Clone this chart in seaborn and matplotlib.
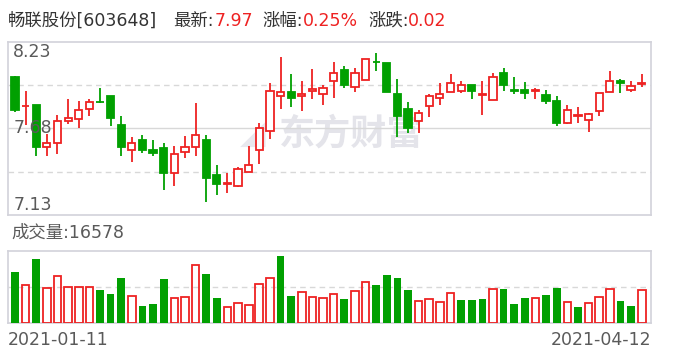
import matplotlib
matplotlib.use("Agg")
import matplotlib.pyplot as plt
import numpy as np
import pandas as pd
import seaborn as sns

# ---------------- data ----------------
stock_title = "畅联股份[603648]"
latest_label, latest_value = "最新:", "7.97"
pct_label, pct_value = "涨幅:", "0.25%"
chg_label, chg_value = "涨跌:", "0.02"
vol_label = "成交量:16578"
date_labels = ["2021-01-11", "2021-04-12"]
price_ticks = [7.13, 7.68, 8.23]

opens = [8.01, 7.82, 7.83, 7.56, 7.59, 7.73, 7.74, 7.805, 7.85, 7.885,
         7.705, 7.545, 7.61, 7.545, 7.555, 7.40, 7.53, 7.56, 7.605, 7.385,
         7.33, 7.315, 7.405, 7.545, 7.665, 7.885, 7.915, 7.885, 7.92, 7.90,
         7.98, 8.055, 7.945, 7.99, 8.105, 8.095, 7.90, 7.805, 7.73, 7.82,
         7.875, 7.91, 7.92, 7.955, 7.89, 7.86, 8.035, 7.925, 7.925, 7.92,
         7.895, 7.855, 7.715, 7.76, 7.735, 7.79, 7.91, 7.985, 7.925, 7.96]
highs = [8.015, 7.92, 7.83, 7.645, 7.765, 7.865, 7.855, 7.87, 7.94, 7.885,
         7.76, 7.625, 7.64, 7.605, 7.585, 7.57, 7.635, 7.845, 7.64, 7.445,
         7.40, 7.435, 7.57, 7.715, 7.97, 8.135, 8.025, 7.985, 8.06, 7.955,
         8.105, 8.08, 8.065, 8.125, 8.16, 8.095, 7.995, 7.85, 7.795, 7.90,
         7.97, 8.025, 7.985, 7.955, 7.985, 8.035, 8.065, 8.005, 7.975, 7.935,
         7.925, 7.885, 7.83, 7.815, 7.78, 7.905, 8.045, 7.995, 7.985, 8.025]
lows = [7.785, 7.705, 7.505, 7.505, 7.52, 7.71, 7.685, 7.76, 7.845, 7.695,
        7.505, 7.47, 7.525, 7.505, 7.29, 7.315, 7.49, 7.505, 7.215, 7.26,
        7.27, 7.31, 7.405, 7.455, 7.615, 7.805, 7.815, 7.79, 7.87, 7.83,
        7.875, 7.94, 7.91, 7.99, 8.045, 7.91, 7.625, 7.65, 7.65, 7.75,
        7.83, 7.91, 7.905, 7.87, 7.765, 7.86, 7.92, 7.90, 7.87, 7.865,
        7.835, 7.695, 7.71, 7.715, 7.66, 7.76, 7.91, 7.905, 7.91, 7.945]
closes = [7.80, 7.825, 7.56, 7.59, 7.73, 7.745, 7.795, 7.85, 7.846, 7.745,
          7.56, 7.59, 7.545, 7.525, 7.40, 7.52, 7.565, 7.64, 7.365, 7.33,
          7.335, 7.425, 7.45, 7.68, 7.92, 7.915, 7.875, 7.90, 7.93, 7.935,
          8.035, 7.955, 8.035, 8.125, 8.10, 7.915, 7.76, 7.68, 7.78, 7.885,
          7.90, 7.97, 7.955, 7.92, 7.90, 8.01, 7.955, 7.92, 7.905, 7.925,
          7.855, 7.715, 7.795, 7.765, 7.775, 7.905, 7.985, 7.97, 7.95, 7.97]
volumes = [25790, 19090, 32320, 17580, 23610, 18090, 18090, 18090, 16750, 14740,
           22770, 13560, 8710, 9710, 22270, 12560, 13060, 29140, 24780, 12730,
           8040, 10050, 9040, 19590, 22610, 33830, 13730, 15570, 13060, 12560,
           14570, 12220, 16080, 20600, 19260, 24280, 22940, 16750, 11050, 12060,
           10550, 15070, 11720, 11720, 12220, 17080, 17250, 9710, 12730, 12560,
           14230, 17750, 10550, 8210, 10050, 13060, 17080, 11220, 8710, 16578]

# ---------------- style ----------------
sns.set_theme(style="white")
plt.rcParams["font.family"] = ["DejaVu Sans", "Noto Sans CJK SC"]

RED = "#ee2222"
GREEN = "#01a001"
BORDER = "#d2d2da"
GRID = "#d8d8d8"
LABEL = "#5a5a5a"
TXT = "#333333"

df = pd.DataFrame({"open": opens, "high": highs, "low": lows,
                   "close": closes, "volume": volumes})
df["idx"] = np.arange(len(df))
df["up"] = df["close"] >= df["open"]
prev_close = df["close"].shift(1).fillna(df["open"])
df["vol_up"] = df["close"] >= prev_close

W, H = 688, 360
fig = plt.figure(figsize=(W / 100, H / 100), dpi=100)
fig.patch.set_facecolor("white")

def ax_rect(left, top, right, bottom):
    return [left / W, 1 - bottom / H, (right - left) / W, (bottom - top) / H]

ax = fig.add_axes(ax_rect(8, 42, 651, 215))
axv = fig.add_axes(ax_rect(8, 251, 651, 323.3))

n = len(df)
xlim = (-0.66, n - 1 + 0.876)

# ---------------- price panel ----------------
ax.axhline(price_ticks[1], color=GRID, lw=1.0, zorder=1)
q = (price_ticks[2] - price_ticks[0]) / 4
for yv in (price_ticks[0] + q, price_ticks[2] - q):
    ax.axhline(yv, color=GRID, lw=1.0, ls=(0, (4, 3)), zorder=1)

ax.text(0.422, 0.47, "东方财富", transform=ax.transAxes, ha="left", va="center",
        fontsize=26, fontweight="bold", color="#e4e4ea", zorder=0.5,
        family=["Noto Sans CJK SC"])
ax.text(0.36, 0.47, "◢", transform=ax.transAxes, ha="left", va="center",
        fontsize=24, color="#e8e8ee", zorder=0.5, family=["DejaVu Sans"])

colors = np.where(df["up"], RED, GREEN)
ax.vlines(df["idx"], df["low"], df["high"], colors=colors, lw=1.3, zorder=2)
body_h = np.maximum((df["close"] - df["open"]).abs(), 0.003)
body_b = np.minimum(df["open"], df["close"])
ax.bar(df["idx"], body_h, bottom=body_b, width=0.68,
       color=np.where(df["up"], "white", GREEN), edgecolor=colors,
       linewidth=1.3, zorder=3)

ax.set_xlim(*xlim)
ax.set_ylim(price_ticks[0], price_ticks[2])
ax.set_xticks([]); ax.set_yticks([])
for s in ax.spines.values():
    s.set_color(BORDER); s.set_linewidth(1.2); s.set_visible(True)

ytr = ax.get_yaxis_transform()
ax.text(0.008, price_ticks[2] - 0.005, f"{price_ticks[2]:.2f}", ha="left", va="top",
        fontsize=12.5, color=LABEL, transform=ytr, zorder=4)
ax.text(0.008, price_ticks[1], f"{price_ticks[1]:.2f}", ha="left", va="center",
        fontsize=12.5, color=LABEL, transform=ytr, zorder=4)
ax.text(0.008, price_ticks[0] + 0.005, f"{price_ticks[0]:.2f}", ha="left", va="bottom",
        fontsize=12.5, color=LABEL, transform=ytr, zorder=4)

# ---------------- volume panel ----------------
vmax = 36340
axv.axhline(vmax / 2, color=GRID, lw=1.0, ls=(0, (4, 3)), zorder=1)
down_df = df[~df["vol_up"]]
up_df = df[df["vol_up"]]
sns.barplot(data=down_df, x="idx", y="volume", native_scale=True, width=0.72,
            color=GREEN, saturation=1, errorbar=None, linewidth=0, ax=axv, zorder=3)
sns.barplot(data=up_df, x="idx", y="volume", native_scale=True, width=0.72,
            color=RED, saturation=1, errorbar=None, fill=False, linewidth=1.3,
            ax=axv, zorder=3)
axv.set_xlim(*xlim)
axv.set_ylim(0, vmax)
axv.set_xticks([]); axv.set_yticks([])
axv.set_xlabel(""); axv.set_ylabel("")
for s in axv.spines.values():
    s.set_color(BORDER); s.set_linewidth(1.2); s.set_visible(True)

# ---------------- header texts ----------------
def px(x, y):
    return x / W, 1 - y / H

fs = 12.5
fig.text(*px(8, 21), stock_title, ha="left", va="center", fontsize=fs, color=TXT)
fig.text(*px(173, 21), latest_label, ha="left", va="center", fontsize=fs, color=TXT)
fig.text(*px(215, 21), latest_value, ha="left", va="center", fontsize=fs, color=RED)
fig.text(*px(262, 21), pct_label, ha="left", va="center", fontsize=fs, color=TXT)
fig.text(*px(303, 21), pct_value, ha="left", va="center", fontsize=fs, color=RED)
fig.text(*px(368, 21), chg_label, ha="left", va="center", fontsize=fs, color=TXT)
fig.text(*px(408, 21), chg_value, ha="left", va="center", fontsize=fs, color=RED)

fig.text(*px(11, 233), vol_label, ha="left", va="center", fontsize=fs, color=LABEL)
fig.text(*px(8, 340), date_labels[0], ha="left", va="center", fontsize=fs, color=LABEL)
fig.text(*px(651, 340), date_labels[1], ha="right", va="center", fontsize=fs, color=LABEL)

fig.savefig("out.png", dpi=100, facecolor="white")
